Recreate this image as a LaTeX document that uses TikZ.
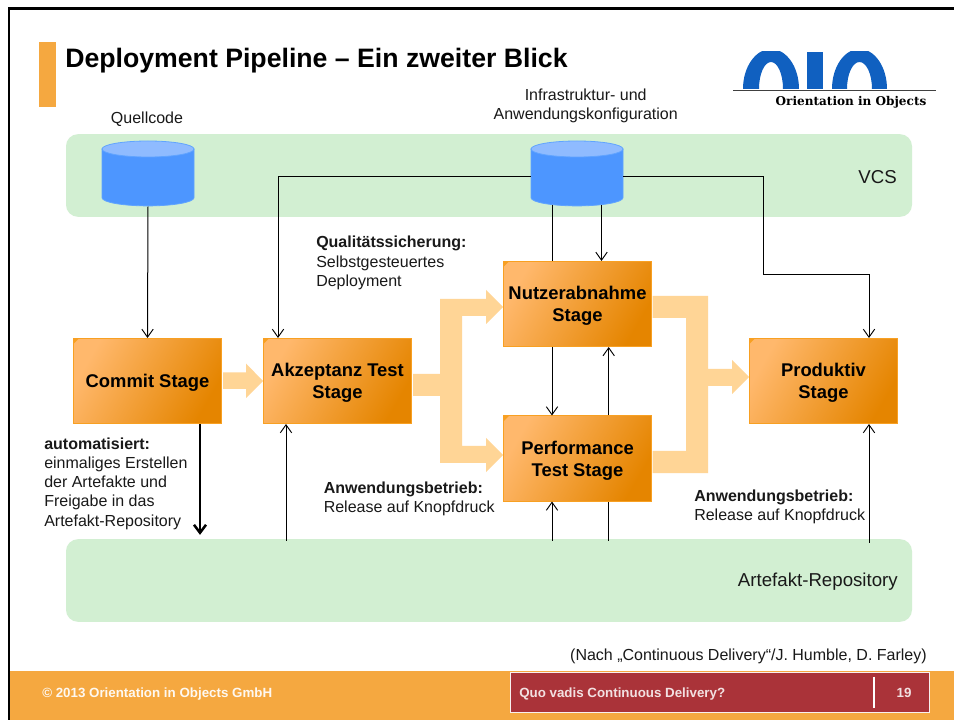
\documentclass[tikz,border=0pt]{standalone}
\usepackage{fontspec}
\setmainfont{Liberation Sans}
\newfontfamily\logofont{DejaVu Serif}
\usetikzlibrary{arrows.meta}
\definecolor{footerorange}{HTML}{F5A840}
\definecolor{bandgreen}{HTML}{D2EFD2}
\definecolor{cylbody}{HTML}{4D96FF}
\definecolor{cylend}{HTML}{8FBBFF}
\definecolor{cyledge}{HTML}{60A4FF}
\definecolor{stagelight}{HTML}{FFB86C}
\definecolor{stagedark}{HTML}{E58500}
\definecolor{stageedge}{HTML}{F8A022}
\definecolor{flow}{HTML}{FFD596}
\definecolor{redbar}{HTML}{AA3339}
\definecolor{logoblue}{HTML}{1060C0}
\newcommand{\drumbody}[1]{%
  \begin{scope}[shift={(#1)}]
    \filldraw[fill=cylbody,draw=cyledge,line width=0.6pt] (-46,-24.3) -- (-46,24.4) arc[start angle=180,end angle=0,x radius=46,y radius=8.2] -- (46,-24.3) -- cycle;
    \filldraw[fill=cylend,draw=cyledge,line width=0.6pt] (0,-24.3) ellipse[x radius=46,y radius=8];
  \end{scope}}
\tikzset{
  x=0.75pt,y=-0.75pt,
  band/.style={fill=bandgreen,rounded corners=9pt,draw=none,minimum width=634.5pt,minimum height=62pt,inner sep=0pt},
  stage/.style={rectangle,draw=stageedge,line width=0.75pt,top color=stagelight,bottom color=stagedark,shading angle=60,
    minimum width=111pt,minimum height=63.75pt,inner sep=0pt,align=center,text=black,
    font=\fontsize{13.8pt}{16.6pt}\selectfont\bfseries,
    text depth=-1.7pt,
    path picture={\fill[stageedge] (path picture bounding box.north west) -- ++(4pt,0pt) -- ++(-4pt,-4pt) -- cycle;}},
  drumbox/.style={rectangle,draw=none,minimum width=69pt,minimum height=48.5pt,inner sep=0pt},
  label/.style={font=\fontsize{12pt}{14.4pt}\selectfont,inner sep=0pt,text=black!90},
  biglabel/.style={font=\fontsize{14pt}{16pt}\selectfont,inner sep=0pt,text=black!90,anchor=east},
  note/.style={label,anchor=north west,align=left},
  conn/.style={line width=0.75pt,black},
  arr/.style={conn,-{Straight Barb[length=6pt,width=8.5pt,line width=0.7pt]}},
  flowarrow/.style={fill=flow,draw=none},
  foottext/.style={font=\fontsize{10pt}{12pt}\selectfont\bfseries,inner sep=0pt},
}
\begin{document}
\begin{tikzpicture}
\useasboundingbox (0,0) rectangle (954,720);
\fill[white] (0,0) rectangle (954,720);
% frame and footer
\fill[footerorange] (10,671) rectangle (954,720);
\draw[black,line width=1.8pt] (8.7,720) -- (8.7,8.5) -- (954,8.5);
\fill[footerorange] (39,42) rectangle (56,107);
\node[anchor=west,inner sep=0pt,font=\fontsize{20pt}{24pt}\selectfont\bfseries] (title) at (65,61) {Deployment Pipeline – Ein zweiter Blick};
% logo
\begin{scope}
\clip (730,52) rectangle (940,90);
\fill[logoblue] (743,89) arc[start angle=180,end angle=360,x radius=28,y radius=40] -- (783,89) arc[start angle=360,end angle=180,x radius=12,y radius=27] -- cycle;
\fill[logoblue] (807,52) rectangle (823,89);
\fill[logoblue] (832,89) arc[start angle=180,end angle=360,x radius=27.5,y radius=40] -- (872,89) arc[start angle=360,end angle=180,x radius=12.5,y radius=27] -- cycle;
\end{scope}
\draw[black!75,line width=0.6pt] (733,90) -- (936,90);
\node[inner sep=0pt,font=\logofont\fontsize{9.05pt}{11pt}\selectfont\bfseries] (logotext) at (851,102) {Orientation in Objects};
% bands
\node[band] (vcs) at (489,175.5) {};
\node[band] (art) at (489,580.5) {};
\node[biglabel] (vcslabel) at (897,177) {VCS};
\node[biglabel] (artlabel) at (898,582) {Artefakt-Repository};
% drums
\node[drumbox] (cylL) at (148,173.3) {};
\node[drumbox] (cylR) at (577,173.3) {};
\drumbody{cylL}
\drumbody{cylR}
\node[label] (qc) at (147,119.5) {Quellcode};
\node[label,align=center,anchor=north] (ik) at (585.7,88.5) {Infrastruktur- und\\Anwendungskonfiguration};
% stages
\node[stage] (commit) at (147.5,381) {Commit Stage};
\node[stage] (akz) at (337.5,381) {Akzeptanz Test\\Stage};
\node[stage] (nutzer) at (577.5,304) {Nutzerabnahme\\Stage};
\node[stage] (perf) at (577.5,458.5) {Performance\hspace{3.5pt}\\Test Stage};
\node[stage] (prod) at (823.5,381) {Produktiv\\Stage};
% flow arrows
\fill[flowarrow] (223,372.5) -- (246,372.5) -- (246,363.5) -- (263,381) -- (246,398) -- (246,389) -- (223,389) -- cycle;
\fill[flowarrow] (413,374) -- (440,374) -- (440,299) -- (486,299) -- (486,290) -- (503,307) -- (486,324) -- (486,316) -- (462,316) -- (462,446) -- (486,446) -- (486,438) -- (503,455) -- (486,472) -- (486,463) -- (440,463) -- (440,396) -- (413,396) -- cycle;
\fill[flowarrow] (652.5,296) -- (708,296) -- (708,369) -- (732,369) -- (732,360) -- (749,377) -- (732,394) -- (732,386) -- (708,386) -- (708,473) -- (652.5,473) -- (652.5,451) -- (686,451) -- (686,318) -- (652.5,318) -- cycle;
% connectors
\coordinate (xAkzTop) at (278,0);
\coordinate (xAkzBot) at (286,0);
\coordinate (xA) at (552,0);
\coordinate (xB) at (601.5,0);
\coordinate (xC) at (608.7,0);
\coordinate (xD) at (763,0);
\coordinate (xE) at (869,0);
\coordinate (yTop) at (0,177);
\coordinate (yMid) at (0,275);
\coordinate (xThick) at (200,0);
\draw[arr] (cylR.west |- yTop) -- (xAkzTop |- yTop) -- (xAkzTop |- akz.north);
\draw[arr] (cylR.east |- yTop) -- (xD |- yTop) -- (xD |- yMid) -- (xE |- yMid) -- (xE |- prod.north);
\draw[conn] ([yshift=1pt]cylR.south -| xA) -- (nutzer.north -| xA);
\draw[arr] ([yshift=1pt]cylR.south -| xB) -- (nutzer.north -| xB);
\draw[arr] ([yshift=-0.5pt]cylL.south) -- (commit.north);
\draw[arr] (nutzer.south -| xA) -- (perf.north -| xA);
\draw[arr] (perf.north -| xC) -- (nutzer.south -| xC);
\draw[arr] ([yshift=-1.5pt]art.north -| xA) -- (perf.south -| xA);
\draw[conn] ([yshift=-1.5pt]art.north -| xC) -- (perf.south -| xC);
\draw[arr] ([yshift=-1.5pt]art.north -| xAkzBot) -- (akz.south -| xAkzBot);
\draw[arr] ([yshift=-3pt]art.north -| xE) -- (prod.south -| xE);
\draw[black,line width=1.9pt,-{Straight Barb[length=6pt,width=9pt,line width=1.9pt]}] (commit.south -| xThick) -- ([yshift=3pt]art.north -| xThick);
% notes
\node[note] (n1) at (44,437.5) {\textbf{automatisiert:}\\einmaliges Erstellen\\der Artefakte und\\Freigabe in das\\Artefakt-Repository};
\node[note] (n2) at (316,236) {\textbf{Qualitätssicherung:}\\Selbstgesteuertes\\Deployment};
\node[note] (n3) at (323.5,481.5) {\textbf{Anwendungsbetrieb:}\\Release auf Knopfdruck};
\node[note] (n4) at (694,489.5) {\textbf{Anwendungsbetrieb:}\\Release auf Knopfdruck};
\node[label,anchor=east] (src) at (927,656) {(Nach „Continuous Delivery“/J. Humble, D. Farley)};
% footer content
\node[foottext,anchor=west,text=white!92!footerorange] (copy) at (42,694) {© 2013 Orientation in Objects GmbH};
\node[fill=redbar,draw=white!92!redbar,line width=1.1pt,minimum width=314.5pt,minimum height=30pt,inner sep=0pt] (bar) at (720,692.3) {};
\node[foottext,anchor=west,text=white!85!redbar] (talk) at (519,694) {Quo vadis Continuous Delivery?};
\node[foottext,text=white!85!redbar] (page) at (904,693) {19};
\coordinate (xDiv) at (874,0);
\draw[white,line width=1.1pt] (xDiv |- bar.north) ++(0,5) -- ++(0,31);
\end{tikzpicture}
\end{document}
